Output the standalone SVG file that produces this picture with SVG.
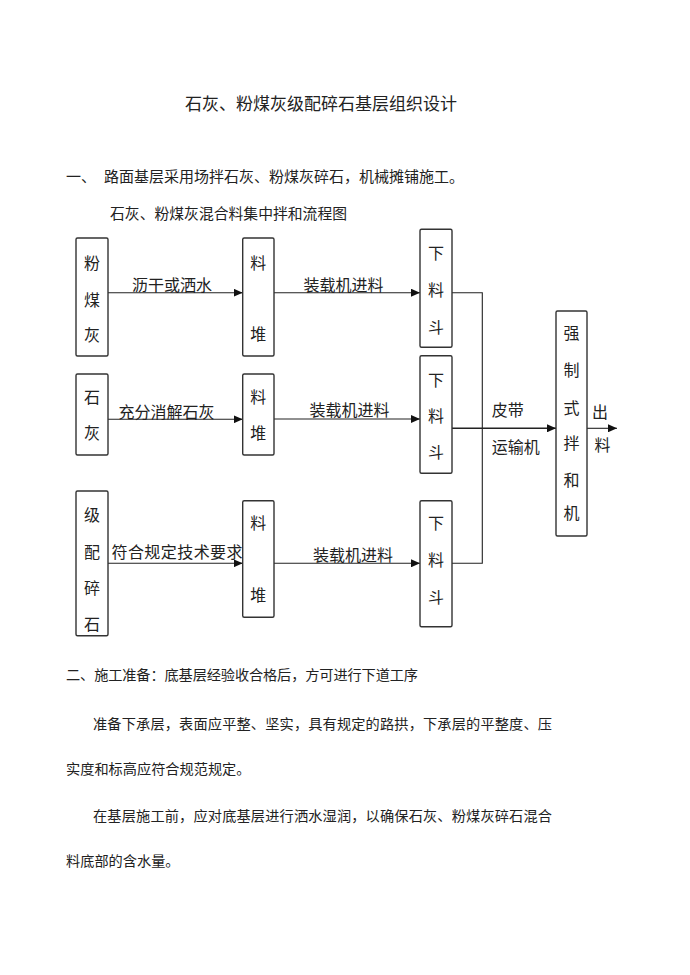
<svg xmlns="http://www.w3.org/2000/svg" width="690" height="975" viewBox="0 0 690 975">
<style>
text{font-family:"Noto Sans CJK SC","Noto Sans",sans-serif;fill:#222;}
.t{font-size:17px;}
.b{font-size:14.2px;}
.d{font-size:16px;}
.c{text-anchor:middle;}
.box{fill:#fff;stroke:#333;stroke-width:1.4;}
.ln{fill:none;stroke:#222;stroke-width:1.1;}
.ar{fill:none;stroke:#222;stroke-width:1.1;marker-end:url(#ah);}
</style>
<defs>
<marker id="ah" markerWidth="9" markerHeight="8" refX="9" refY="4" orient="auto" markerUnits="userSpaceOnUse">
<path d="M0,0 L9,4 L0,8 Z" fill="#111"/>
</marker>
</defs>
<rect width="690" height="975" fill="#fff"/>
<g id="texts">
<text class="t" x="185" y="109.5" textLength="272">石灰、粉煤灰级配碎石基层组织设计</text>
<text style="font-size:15px" x="66" y="182.4">一、</text>
<text style="font-size:15px" x="104" y="182.4">路面基层采用场拌石灰、粉煤灰碎石，机械摊铺施工。</text>
<text style="font-size:14.8px" x="110" y="219" textLength="237">石灰、粉煤灰混合料集中拌和流程图</text>
<text class="b" x="66" y="680.4" textLength="352">二、施工准备：底基层经验收合格后，方可进行下道工序</text>
<text class="b" x="93" y="728.7" textLength="459">准备下承层，表面应平整、坚实，具有规定的路拱，下承层的平整度、压</text>
<text class="b" x="66" y="773.7">实度和标高应符合规范规定。</text>
<text class="b" x="93" y="821" textLength="459">在基层施工前，应对底基层进行洒水湿润，以确保石灰、粉煤灰碎石混合</text>
<text class="b" x="66" y="865.5">料底部的含水量。</text>
</g>
<g id="connectors">
<line class="ar" x1="108" y1="292.7" x2="242.7" y2="292.7"/>
<line class="ar" x1="274" y1="292.7" x2="420" y2="292.7"/>
<line class="ar" x1="108" y1="419.3" x2="242.7" y2="419.3"/>
<line class="ar" x1="274" y1="419" x2="420" y2="419"/>
<line class="ar" x1="108" y1="563.3" x2="242.7" y2="563.3"/>
<line class="ar" x1="274" y1="563.3" x2="420" y2="563.3"/>
<polyline class="ln" points="452,292.7 482.3,292.7 482.3,563.3 452,563.3"/>
<line class="ar" style="stroke-width:1.6" x1="452" y1="428.3" x2="556" y2="428.3"/>
<line class="ar" x1="587" y1="428.3" x2="617" y2="428.3"/>
<text class="d c" x="172" y="290.5">沥干或洒水</text>
<text class="d c" x="343.5" y="290.5">装载机进料</text>
<text class="d c" x="166.5" y="417.5">充分消解石灰</text>
<text class="d c" x="349.5" y="416">装载机进料</text>
<text class="d c" x="177" y="557.7" textLength="131">符合规定技术要求</text>
<text class="d c" x="353" y="561">装载机进料</text>
<text class="d" x="491.7" y="416">皮带</text>
<text class="d" x="491.7" y="452.7">运输机</text>
<text class="d c" x="600" y="417.7">出</text>
<text class="d c" x="602.5" y="451">料</text>
</g>
<g id="n-fmh">
<rect class="box" x="76" y="238" width="32" height="118" rx="1.5"/>
<text class="d c" x="92" y="269">粉</text>
<text class="d c" x="92" y="306">煤</text>
<text class="d c" x="92" y="341">灰</text>
</g>
<g id="n-ld1">
<rect class="box" x="242.7" y="238" width="31.3" height="118" rx="1.5"/>
<text class="d c" x="258.3" y="268.7">料</text>
<text class="d c" x="258.3" y="340">堆</text>
</g>
<g id="n-xld1">
<rect class="box" x="420" y="229.3" width="32" height="118" rx="1.5"/>
<text class="d c" x="436" y="259">下</text>
<text class="d c" x="436" y="296">料</text>
<text class="d c" x="436" y="332.7">斗</text>
</g>
<g id="n-sh">
<rect class="box" x="76" y="374" width="32" height="81" rx="1.5"/>
<text class="d c" x="92" y="402.7">石</text>
<text class="d c" x="92" y="439">灰</text>
</g>
<g id="n-ld2">
<rect class="box" x="242.7" y="374" width="31.3" height="81" rx="1.5"/>
<text class="d c" x="258.3" y="402.7">料</text>
<text class="d c" x="258.3" y="439">堆</text>
</g>
<g id="n-xld2">
<rect class="box" x="420" y="355.7" width="32" height="117.6" rx="1.5"/>
<text class="d c" x="436" y="386">下</text>
<text class="d c" x="436" y="422">料</text>
<text class="d c" x="436" y="457.7">斗</text>
</g>
<g id="n-jpss">
<rect class="box" x="76" y="491" width="32" height="144.7" rx="1.5"/>
<text class="d c" x="92" y="521">级</text>
<text class="d c" x="92" y="557.7">配</text>
<text class="d c" x="92" y="594">碎</text>
<text class="d c" x="92" y="630">石</text>
</g>
<g id="n-ld3">
<rect class="box" x="242.7" y="500.7" width="31.3" height="116.6" rx="1.5"/>
<text class="d c" x="258.3" y="529.3">料</text>
<text class="d c" x="258.3" y="601">堆</text>
</g>
<g id="n-xld3">
<rect class="box" x="420" y="500.7" width="32" height="126" rx="1.5"/>
<text class="d c" x="436" y="529">下</text>
<text class="d c" x="436" y="566">料</text>
<text class="d c" x="436" y="602.7">斗</text>
</g>
<g id="n-mixer">
<rect class="box" x="556" y="311" width="31" height="225" rx="1.5"/>
<text class="d c" x="571.5" y="339">强</text>
<text class="d c" x="571.5" y="376">制</text>
<text class="d c" x="571.5" y="414">式</text>
<text class="d c" x="571.5" y="449">拌</text>
<text class="d c" x="571.5" y="486">和</text>
<text class="d c" x="571.5" y="519">机</text>
</g>
</svg>
